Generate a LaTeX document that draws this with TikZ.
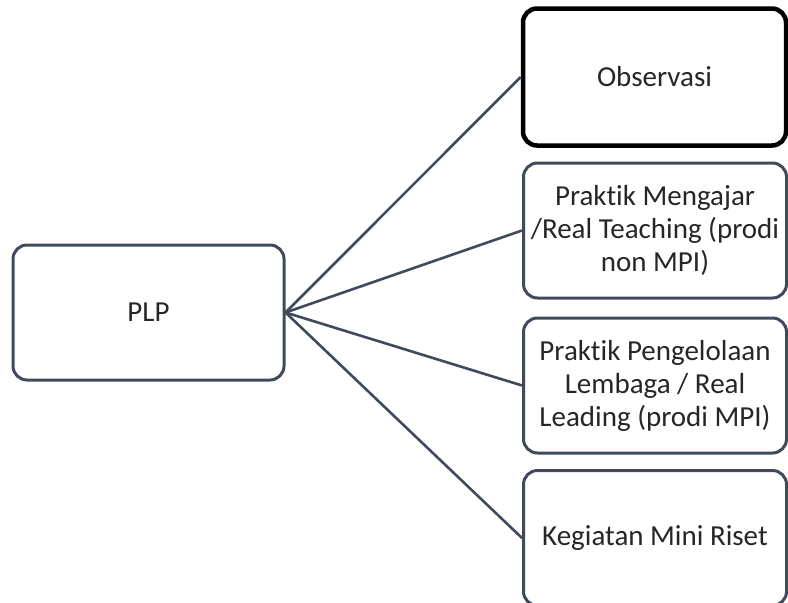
\documentclass[tikz,border=0pt]{standalone}
\usepackage{fontspec}
\setmainfont[Ligatures=NoCommon]{Carlito}
\definecolor{slate}{HTML}{414A5C}
\definecolor{txt}{HTML}{262626}
\begin{document}
\begin{tikzpicture}[x=1pt,y=-1pt,
  box/.style={draw=slate,line width=3pt,rounded corners=14pt,rectangle,
    minimum width=263pt,minimum height=135pt,align=center,text=txt,
    font=\fontsize{29}{33}\selectfont,inner sep=2pt},
  link/.style={draw=slate,line width=2.6pt}]
\useasboundingbox (0,0) rectangle (788,603);
\clip (0,0) rectangle (788,603);
\node[box,minimum width=271pt] (plp) at (148.5,312.5) {PLP};
\node[box,draw=black,line width=4.5pt,minimum height=137pt] (obs) at (654.5,77) {Observasi};
\node[box] (pm) at (655,230.5) {Praktik Mengajar\\/Real Teaching (prodi\\non MPI)};
\node[box] (pp) at (655,385.5) {Praktik Pengelolaan\\Lembaga / Real\\Leading (prodi MPI)};
\node[box] (kr) at (655,538) {Kegiatan Mini Riset};
\draw[link] (plp.east) -- (obs.west);
\draw[link] (plp.east) -- (pm.west);
\draw[link] (plp.east) -- (pp.west);
\draw[link] (plp.east) -- (kr.west);
\end{tikzpicture}
\end{document}
